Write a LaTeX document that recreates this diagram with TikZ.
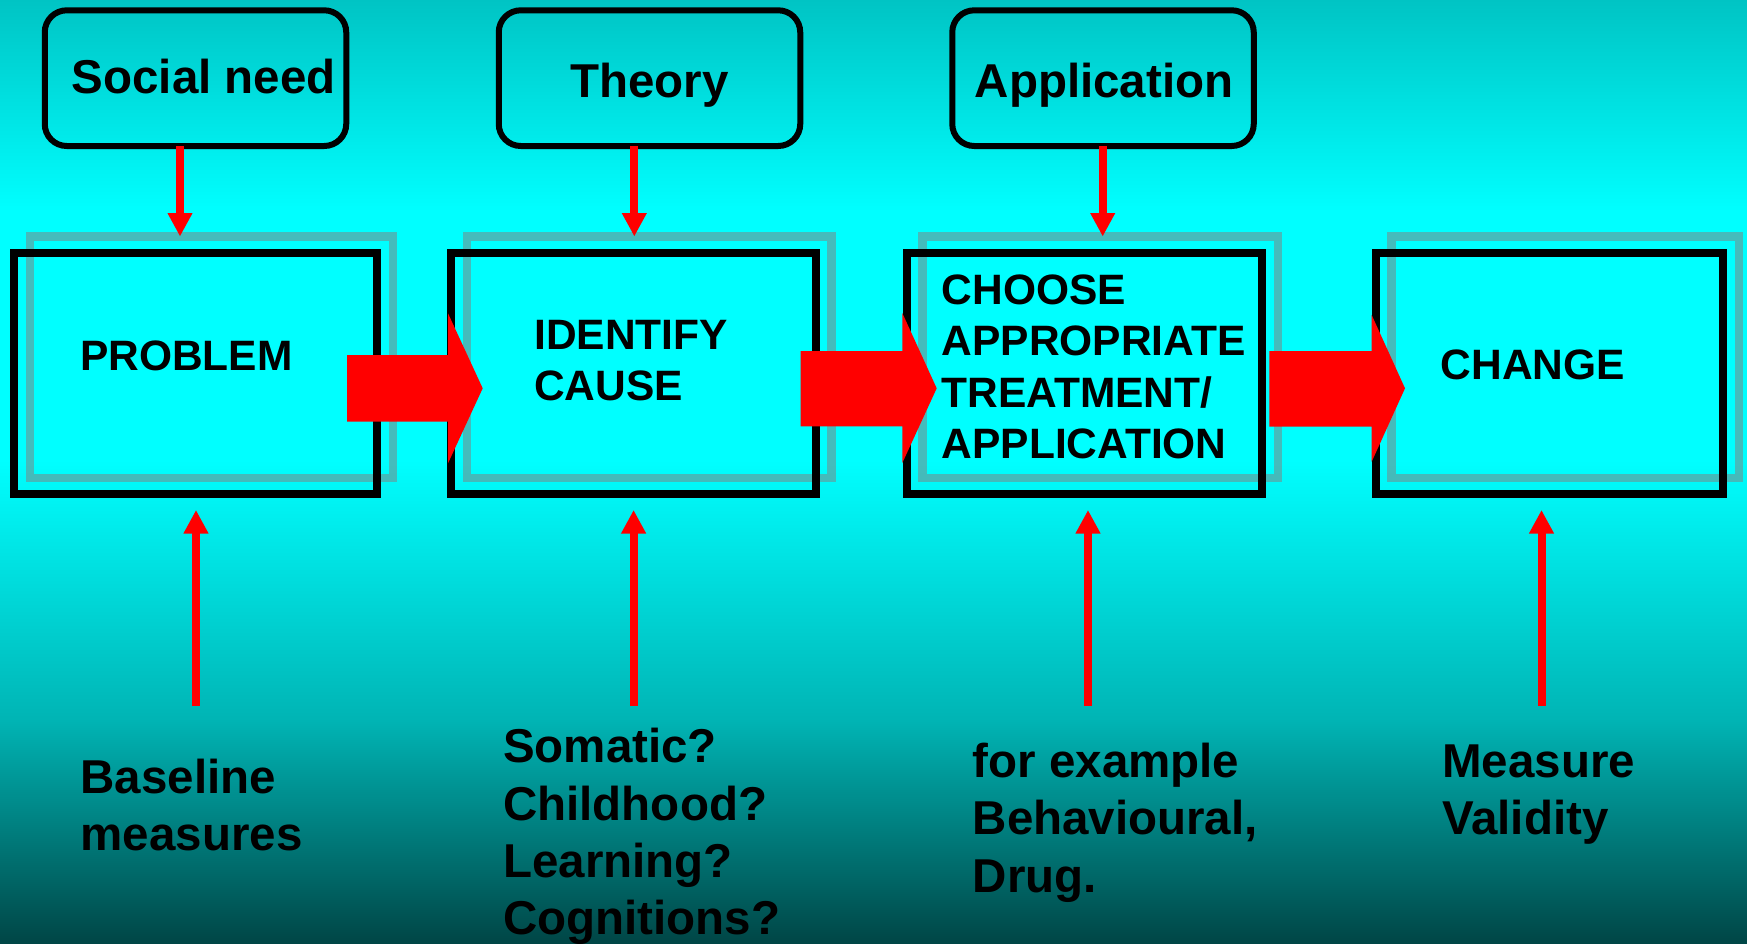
\documentclass[tikz,border=0pt]{standalone}
\usepackage{fontspec}
\setmainfont{Liberation Sans}
\usetikzlibrary{arrows.meta}
\definecolor{cyanA}{RGB}{0,196,196}
\definecolor{cyanB}{RGB}{0,255,255}
\definecolor{cyanC}{RGB}{0,180,180}
\definecolor{cyanD}{RGB}{0,70,70}
\definecolor{shadowgray}{RGB}{130,130,130}
\begin{document}
\begin{tikzpicture}[x=1pt,y=-1pt,
  bbox/.style={draw=black, line width=8pt, rectangle, minimum width=#1, minimum height=241.5pt, inner sep=0pt, outer sep=0pt},
  gbox/.style={draw=shadowgray, draw opacity=0.53, line width=8.5pt, rectangle, minimum width=#1, minimum height=241.5pt, inner sep=0pt, outer sep=0pt},
  tbox/.style={draw=black, line width=6pt, rounded corners=22pt, rectangle, minimum width=301.5pt, minimum height=135.7pt, inner sep=0pt, outer sep=0pt},
  boxtext/.style={font=\fontsize{42.5}{51.5}\selectfont\bfseries, anchor=base west, inner sep=0pt, text=black},
  bigtext/.style={font=\fontsize{47.5}{57.4}\selectfont\bfseries, anchor=base west, inner sep=0pt, text=black},
  thinarrow/.style={draw=red, line width=8pt, -{Triangle[width=23.5pt,length=23.5pt]}},
  blockarrow/.style={fill=red}
]
\useasboundingbox (0,0) rectangle (1747,943);
% background
\shade[top color=cyanA, bottom color=cyanB] (0,0) rectangle (1747,211);
\fill[cyanB] (0,210) rectangle (1747,461);
\shade[top color=cyanB, bottom color=cyanC] (0,460) rectangle (1747,721);
\shade[top color=cyanC, bottom color=cyanD] (0,720) rectangle (1747,943);

% shadow boxes
\node[gbox=363pt]   (g1) at (211.5,357.25) {};
\node[gbox=364.5pt] (g2) at (649.25,357.25) {};
\node[gbox=355.5pt] (g3) at (1100.25,357.25) {};
\node[gbox=347.5pt] (g4) at (1565.25,357.25) {};

% main boxes
\node[bbox=363pt]   (b1) at (195.5,373.25) {};
\node[bbox=364.5pt] (b2) at (633.25,373.25) {};
\node[bbox=355.5pt] (b3) at (1084.25,373.25) {};
\node[bbox=347.5pt] (b4) at (1549.25,373.25) {};

% top rounded boxes
\node[tbox] (sn) at (195.5,78.15) {};
\node[tbox] (th) at (649.5,78.15) {};
\node[tbox] (ap) at (1103,78.15) {};

% block arrows
\fill[blockarrow] (347,355) -- (448,355) -- (448,313.3) -- (482.7,388.3) -- (448,463.3) -- (448,421.7) -- (347,421.7) -- cycle;
\fill[blockarrow] (800.7,351) -- (902.3,351) -- (902.3,313) -- (936.7,388.3) -- (902.3,463) -- (902.3,426.3) -- (800.7,426.3) -- cycle;
\fill[blockarrow] (1269.3,351) -- (1371.7,351) -- (1371.7,315) -- (1405,388.3) -- (1371.7,461.7) -- (1371.7,426.7) -- (1269.3,426.7) -- cycle;

% top thin arrows
\coordinate (ta1) at (180,0);
\coordinate (ta2) at (634.3,0);
\coordinate (ta3) at (1102.7,0);
\draw[thinarrow] (sn.south -| ta1) -- (g1.north -| ta1);
\draw[thinarrow] (th.south -| ta2) -- (g2.north -| ta2);
\draw[thinarrow] (ap.south -| ta3) -- (g3.north -| ta3);

% bottom thin arrows
\coordinate (ba1) at (196,706);
\coordinate (ba2) at (633.6,706);
\coordinate (ba3) at (1088,706);
\coordinate (ba4) at (1541.5,706);
\draw[thinarrow, shorten >=16pt] (ba1) -- (ba1 |- b1.south);
\draw[thinarrow, shorten >=16pt] (ba2) -- (ba2 |- b2.south);
\draw[thinarrow, shorten >=16pt] (ba3) -- (ba3 |- b3.south);
\draw[thinarrow, shorten >=16pt] (ba4) -- (ba4 |- b4.south);

% top texts
\node[bigtext] (snt) at (71.5,93.3) {Social need};
\node[bigtext] (tht) at (570,97.7) {Theory};
\node[bigtext] (apt) at (974.5,97.7) {Application};

% box texts
\node[boxtext] (t1) at (80,370) {PROBLEM};
\node[boxtext] (t2) at (534,349.3) {\vtop{\hbox{IDENTIFY}\hbox{CAUSE}}};
\node[boxtext] (t3) at (941.5,304) {\vtop{\hbox{CHOOSE}\hbox{APPROPRIATE}\hbox{TREATMENT/}\hbox{APPLICATION}}};
\node[boxtext] (t4) at (1440.5,379.3) {CHANGE};

% bottom texts
\node[bigtext] (u1) at (80.5,793.3) {\vtop{\hbox{Baseline}\hbox{measures}}};
\node[bigtext] (u2) at (503,762.7) {\vtop{\hbox{Somatic?}\hbox{Childhood?}\hbox{Learning?}\hbox{Cognitions?}}};
\node[bigtext] (u3) at (972.5,777.3) {\vtop{\hbox{for example}\hbox{Behavioural,}\hbox{Drug.}}};
\node[bigtext] (u4) at (1442,777.3) {\vtop{\hbox{Measure}\hbox{Validity}}};
\end{tikzpicture}
\end{document}
